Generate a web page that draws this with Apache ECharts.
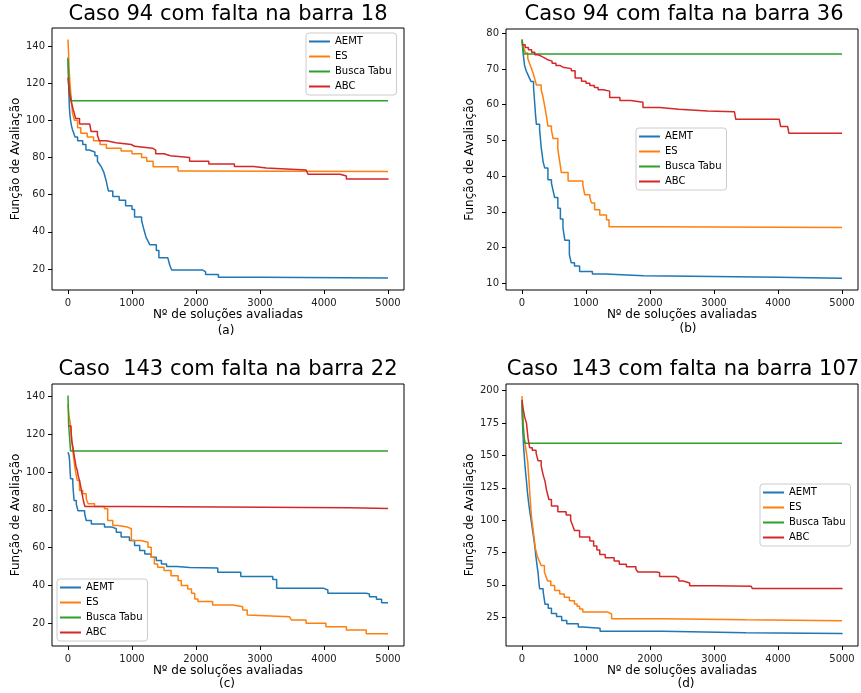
<!DOCTYPE html>
<html><head><meta charset="utf-8">
<script src="https://cdn.jsdelivr.net/npm/echarts@6/dist/echarts.min.js"></script>
<style>html,body{margin:0;padding:0;background:#fff}#c{width:861px;height:693px}</style>
</head><body><div id="c"></div>
<script>
// ---------- data ----------
const seriesNames = ['AEMT', 'ES', 'Busca Tabu', 'ABC'];
const titles = ['Caso 94 com falta na barra 18', 'Caso 94 com falta na barra 36',
  'Caso  143 com falta na barra 22', 'Caso  143 com falta na barra 107'];
const subLabels = ['(a)', '(b)', '(c)', '(d)'];
const xAxisName = 'Nº de soluções avaliadas';
const yAxisName = 'Função de Avaliação';
const xTicks = [0, 1000, 2000, 3000, 4000, 5000];
const yTicksA = [20, 40, 60, 80, 100, 120, 140];
const yTicksB = [10, 20, 30, 40, 50, 60, 70, 80];
const yTicksC = [20, 40, 60, 80, 100, 120, 140];
const yTicksD = [25, 50, 75, 100, 125, 150, 175, 200];

// (a) Caso 94, barra 18
const aAEMT = [[0,134],[10,120],[20,108],[30,103],[40,100],[55,97],[70,95],[90,93],[110,91],[150,89],[230,87],[280,84],[330,83],[420,81],[460,78],[490,76.5],[520,75],[540,73.5],[560,72],[580,69.5],[600,67],[615,64.5],[630,62],[700,59],[800,57],[900,54],[1000,52],[1040,48],[1150,46],[1165,44],[1180,42],[1200,39.5],[1220,37],[1250,35],[1280,33],[1380,30],[1420,26],[1560,25],[1590,22],[1620,19.5],[2100,18.5],[2150,17],[2350,15.5],[3000,15.2],[5000,15]];
const aES = [[0,143.5],[8,137],[15,130],[22,125],[30,120],[40,116],[50,112],[60,108],[70,104],[100,100],[150,96],[200,93],[300,91],[400,89],[500,87],[600,85],[830,83.5],[1000,82],[1150,80],[1230,78],[1330,75],[1720,72.8],[1850,72.5],[5000,72.5]];
const aTabu = [[0,133],[8,125],[15,120],[30,114],[55,110.5],[5000,110.5]];
const aABC = [[0,123],[10,119],[20,115],[35,112],[50,110],[80,106],[100,103.5],[120,101],[180,98],[340,97],[360,94],[460,92],[490,89],[600,88],[750,87],[990,86],[1040,85],[1320,84],[1370,82],[1500,81],[1600,80],[1900,78],[2200,76.5],[2600,75.2],[2900,74.3],[3100,73.3],[3720,72.3],[3750,71],[4250,70],[4350,68.5],[5000,68]];

// (b) Caso 94, barra 36
const bAEMT = [[0,78],[10,76],[20,74],[30,72.5],[40,71],[65,69.5],[90,68.5],[115,67.5],[140,66.5],[180,65],[190,62.5],[200,60],[212,57],[225,54.5],[275,53],[288,50.5],[300,48],[315,46],[330,44],[355,42.3],[405,39],[460,38],[485,36],[510,34],[560,31],[600,28],[640,25.5],[670,22],[740,18],[770,15.7],[820,14.8],[900,13.3],[1100,12.6],[1300,12.1],[1900,11.9],[3000,11.7],[4000,11.4],[5000,11.3]];
const bES = [[0,78.2],[12,77],[25,76],[55,74.5],[90,73],[115,71.7],[145,70.3],[170,69],[195,67.5],[225,65.5],[300,64.2],[330,62],[355,59.5],[380,57],[405,54],[460,53],[485,50.5],[560,47.5],[590,44],[615,41],[720,38.6],[950,37.6],[980,34.8],[1060,34],[1085,32.5],[1135,30.6],[1215,29.1],[1320,27.8],[1360,25.8],[2000,25.6],[5000,25.5]];
const bTabu = [[0,78.3],[15,76],[30,74.2],[5000,74.2]];
const bABC = [[0,76.8],[50,76],[100,75.4],[150,74.7],[200,74],[250,73.6],[300,73.1],[350,72.6],[400,72.2],[470,71.6],[530,71],[590,70.5],[640,70.1],[770,69.5],[830,67.5],[930,66.6],[1000,66],[1060,65.4],[1130,64.8],[1190,64.2],[1270,63.8],[1370,62],[1530,61.2],[1700,60.7],[1890,59.2],[2150,58.7],[2450,58.2],[2900,58],[3320,57.6],[3340,55.9],[4020,55.5],[4040,53.9],[4150,53.7],[4170,52],[5000,51.9]];

// (c) Caso 143, barra 22
const cAEMT = [[0,110.5],[15,109],[25,106],[32,101],[40,96.5],[75,94],[85,89],[95,85],[130,83],[155,79.6],[260,78],[285,74.4],[365,72.6],[570,71],[680,70],[755,68.2],[830,65.6],[960,63.8],[1040,61.1],[1120,58.5],[1200,56.7],[1300,55],[1380,53.2],[1460,51.4],[1540,50],[1700,49.5],[1900,49.2],[2340,47],[2700,44.7],[3200,43.2],[3260,38.5],[4000,37.6],[4060,35.9],[4660,35.5],[4710,34],[4820,32.7],[4900,30.9],[5000,30.6]];
const cES = [[0,136],[15,130],[40,124.6],[58,118],[75,111.4],[100,104.4],[120,100],[145,95.5],[180,90.2],[230,88.5],[285,85.8],[315,83.2],[415,81.8],[570,80.6],[620,74.4],[700,71.7],[780,70.9],[930,70],[990,63.8],[1140,62.9],[1250,60.3],[1300,55],[1350,51.4],[1400,49.7],[1500,47.9],[1610,45.2],[1720,42.6],[1770,40],[1870,38.2],[1930,35.9],[1980,32.9],[2030,31.5],[2260,29.7],[2580,28.8],[2730,27],[2800,24.4],[2830,23.5],[3460,23.2],[3490,21.8],[3720,20],[4030,18.2],[4350,16.5],[4660,14.5],[5000,14.3]];
const cTabu = [[0,140.5],[10,125],[25,118],[40,111.2],[5000,111.2]];
const cABC = [[0,124.4],[45,124.4],[55,117],[80,112.5],[95,109],[110,106],[125,103],[145,100.8],[160,98],[180,95.5],[195,93],[210,90.2],[235,85.8],[250,83.5],[265,81.8],[900,81.5],[2400,81.2],[4400,80.7],[5000,80.6]];

// (d) Caso 143, barra 107
const dAEMT = [[0,190],[5,180],[10,172],[18,164],[25,157],[35,150],[45,143],[58,136],[70,130],[82,123],[95,117],[112,110],[130,104],[145,99],[160,94],[180,87],[200,80],[215,73],[230,67],[240,63],[250,60],[262,53],[275,47],[330,45],[345,40],[360,35],[410,32],[460,28],[540,25.5],[620,22.5],[700,20],[880,17.5],[950,16.5],[1220,14.2],[2200,13.1],[3500,12.5],[5000,11.9]];
const dES = [[0,196],[10,185],[20,175],[30,164],[45,160],[60,155],[75,150],[90,145],[100,137],[110,130],[120,122],[130,115],[140,108],[150,102],[165,96],[180,90],[195,84],[210,78],[225,75],[240,72],[270,68.5],[300,65],[350,60],[375,56.5],[400,53],[450,49.5],[510,45.6],[590,43],[660,40.4],[740,37.8],[820,35.3],[860,33.5],[900,31.4],[950,29],[1340,27.5],[1400,23.8],[2200,23],[3500,22.4],[5000,22.2]];
const dTabu = [[0,193],[10,178],[25,168],[45,159.5],[5000,159.5]];
const dABC = [[0,192.5],[15,187],[40,180],[70,175],[95,163],[120,156],[160,154],[220,152],[250,146],[300,142],[330,135],[360,130],[380,124],[400,120],[420,116],[460,111],[560,106.5],[690,104],[760,100],[790,96],[820,92],[900,87],[1060,84],[1120,80],[1170,77],[1215,73.5],[1300,71],[1440,68.5],[1520,66],[1630,64],[1780,62],[1810,60],[2100,59.5],[2150,56.5],[2400,55],[2450,53],[2520,51.5],[2620,49.3],[3000,49],[3580,48.8],[3600,47.2],[5000,46.6]];

// ---------- layout / style ----------
const colors = ['#1f77b4', '#ff7f0e', '#2ca02c', '#d62728'];
const FONT = 'DejaVu Sans';
const panels = [
  { grid: {left: 52, top: 28, width: 352, height: 262}, yMin: 8.7, yMax: 149.7, yTicks: yTicksA,
    data: [aAEMT, aES, aTabu, aABC], title: [228, 15], sub: [226, 331], legend: {left: 306, top: 33} },
  { grid: {left: 506, top: 29, width: 352, height: 261}, yMin: 8.1, yMax: 81.2, yTicks: yTicksB,
    data: [bAEMT, bES, bTabu, bABC], title: [684, 15], sub: [688, 329], legend: {left: 636, top: 128} },
  { grid: {left: 52, top: 384, width: 352, height: 262}, yMin: 8.0, yMax: 146.6, yTicks: yTicksC,
    data: [cAEMT, cES, cTabu, cABC], title: [228, 370], sub: [227, 684], legend: {left: 57, top: 579} },
  { grid: {left: 506, top: 384, width: 352, height: 262}, yMin: 2.8, yMax: 205.2, yTicks: yTicksD,
    data: [dAEMT, dES, dTabu, dABC], title: [683, 370], sub: [686, 684], legend: {left: 760, top: 484} }
];

const option = {
  animation: false,
  backgroundColor: '#fff',
  textStyle: { fontFamily: FONT },
  color: colors,
  grid: [], xAxis: [], yAxis: [], series: [], legend: [], graphic: []
};

panels.forEach((p, i) => {
  option.grid.push(Object.assign({ show: true, borderColor: '#000', borderWidth: 1, backgroundColor: 'transparent', containLabel: false }, p.grid));
  option.xAxis.push({
    type: 'value', gridIndex: i, min: -250, max: 5250,
    name: xAxisName, nameLocation: 'middle', nameGap: 18,
    nameTextStyle: { fontSize: 12, color: '#000', fontFamily: FONT },
    axisLine: { show: false, onZero: false },
    axisTick: { show: true, length: 4, lineStyle: { color: '#000', width: 1 }, customValues: xTicks },
    axisLabel: { fontSize: 10, color: '#222', margin: 8, customValues: xTicks, fontFamily: FONT,
      formatter: v => String(Math.round(v)) },
    splitLine: { show: false }
  });
  option.yAxis.push({
    type: 'value', gridIndex: i, min: p.yMin, max: p.yMax,
    name: yAxisName, nameLocation: 'middle', nameGap: 30, nameRotate: 90,
    nameTextStyle: { fontSize: 12, color: '#000', fontFamily: FONT },
    axisLine: { show: false, onZero: false },
    axisTick: { show: true, length: 4, lineStyle: { color: '#000', width: 1 }, customValues: p.yTicks },
    axisLabel: { fontSize: 10, color: '#222', margin: 7, customValues: p.yTicks, fontFamily: FONT,
      formatter: v => String(Math.round(v)) },
    splitLine: { show: false }
  });
  p.data.forEach((d, k) => {
    option.series.push({
      type: 'line', name: seriesNames[k], xAxisIndex: i, yAxisIndex: i,
      data: d, step: 'end', showSymbol: false, symbol: 'none',
      lineStyle: { width: 1.5, color: colors[k] }, itemStyle: { color: colors[k] },
      clip: true
    });
  });
  option.legend.push({
    data: seriesNames, orient: 'vertical', left: p.legend.left, top: p.legend.top,
    icon: 'rect', itemWidth: 21, itemHeight: 2, itemGap: 2,
    padding: [2, 5, 2, 3],
    backgroundColor: 'rgba(255,255,255,0.85)', borderColor: '#cccccc', borderWidth: 1, borderRadius: 3,
    textStyle: { fontSize: 10, color: '#000', lineHeight: 13, fontFamily: FONT },
    selectedMode: false
  });
  option.graphic.push({
    type: 'text', x: p.title[0], y: p.title[1],
    style: { text: titles[i], fontSize: 21, fontFamily: FONT, fill: '#000', textAlign: 'center', textVerticalAlign: 'middle' }
  });
  option.graphic.push({
    type: 'text', x: p.sub[0], y: p.sub[1],
    style: { text: subLabels[i], fontSize: 12, fontFamily: FONT, fill: '#000', textAlign: 'center', textVerticalAlign: 'middle' }
  });
});

const chart = echarts.init(document.getElementById('c'), null, { renderer: 'canvas' });
chart.setOption(option);
</script>
</body></html>
